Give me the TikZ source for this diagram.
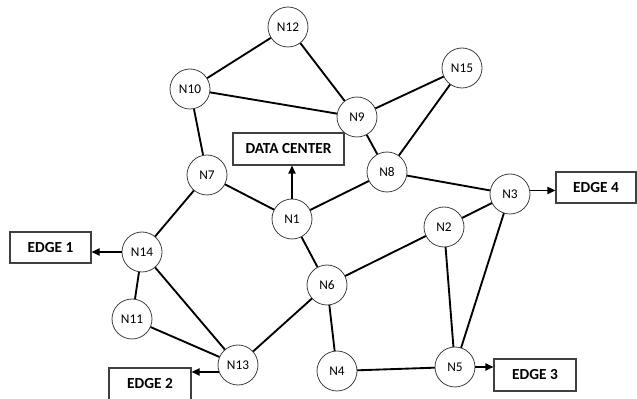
\documentclass[tikz,border=0pt]{standalone}
\usepackage{fontspec}
\setmainfont{Carlito}
\usetikzlibrary{arrows.meta}
\begin{document}
\begin{tikzpicture}[x=0.75pt,y=-0.75pt,
  nd/.style={circle,draw=black!75,line width=0.6pt,fill=white,minimum size=30pt,inner sep=0pt,font=\fontsize{10}{12}\selectfont},
  bx/.style={rectangle,draw=black!75,line width=0.9pt,fill=white,inner sep=0pt,font=\bfseries\fontsize{11.5}{13}\selectfont},
  ln/.style={line width=1.4pt,black},
  ar/.style={line width=0.9pt,black,-{Triangle[length=6pt,width=5.5pt]}}]
\useasboundingbox (0,0) rectangle (637,399);
% edges first (under nodes)
\coordinate (pN12) at (288,27);
\coordinate (pN10) at (190,89);
\coordinate (pN15) at (462,68);
\coordinate (pN9) at (357,117);
\coordinate (pN7) at (207,175);
\coordinate (pN8) at (387,172);
\coordinate (pN1) at (292,219);
\coordinate (pN3) at (510,194);
\coordinate (pN2) at (444,227);
\coordinate (pN14) at (142,252);
\coordinate (pN11) at (132,319);
\coordinate (pN6) at (327,285);
\coordinate (pN13) at (238,365);
\coordinate (pN4) at (337,371);
\coordinate (pN5) at (455,367);
\draw[ln] (pN12) -- (pN10);
\draw[ln] (pN12) -- (pN9);
\draw[ln] (pN10) -- (pN9);
\draw[ln] (pN10) -- (pN7);
\draw[ln] (pN15) -- (pN9);
\draw[ln] (pN15) -- (pN8);
\draw[ln] (pN9) -- (pN8);
\draw[ln] (pN7) -- (pN1);
\draw[ln] (pN7) -- (pN14);
\draw[ln] (pN1) -- (pN8);
\draw[ln] (pN1) -- (pN6);
\draw[ln] (pN8) -- (pN3);
\draw[ln] (pN3) -- (pN2);
\draw[ln] (pN3) -- (pN5);
\draw[ln] (pN2) -- (pN6);
\draw[ln] (pN2) -- (pN5);
\draw[ln] (pN14) -- (pN11);
\draw[ln] (pN14) -- (pN13);
\draw[ln] (pN11) -- (pN13);
\draw[ln] (pN13) -- (pN6);
\draw[ln] (pN6) -- (pN4);
\draw[ln] (pN4) -- (pN5);
% nodes
\node[nd] (N12) at (pN12) {N12};
\node[nd] (N10) at (pN10) {N10};
\node[nd] (N15) at (pN15) {N15};
\node[nd] (N9) at (pN9) {N9};
\node[nd] (N7) at (pN7) {N7};
\node[nd] (N8) at (pN8) {N8};
\node[nd] (N1) at (pN1) {N1};
\node[nd] (N3) at (pN3) {N3};
\node[nd] (N2) at (pN2) {N2};
\node[nd] (N14) at (pN14) {N14};
\node[nd] (N11) at (pN11) {N11};
\node[nd] (N6) at (pN6) {N6};
\node[nd] (N13) at (pN13) {N13};
\node[nd] (N4) at (pN4) {N4};
\node[nd] (N5) at (pN5) {N5};
% boxes
\node[bx,minimum width=83.25pt,minimum height=24pt] (DC) at (288.5,149) {DATA CENTER};
\node[bx,minimum width=60.75pt,minimum height=23.25pt] (E1) at (50.5,247.5) {EDGE 1};
\node[bx,minimum width=61.5pt,minimum height=24pt] (E2) at (150,384) {EDGE 2};
\node[bx,minimum width=61.5pt,minimum height=24pt] (E3) at (535,375) {EDGE 3};
\node[bx,minimum width=60pt,minimum height=23.25pt] (E4) at (596,187.5) {EDGE 4};
% arrows
\draw[ar] (N1.north) -- (N1.north |- DC.south);
\draw[ar] (N14.west) -- (N14.west -| E1.east);
\draw[ar] (N13.200) -- (N13.200 -| E2.east);
\draw[ar] (N5.east) -- (N5.east -| E3.west);
\draw[ar] (N3.10) -- (N3.10 -| E4.west);
\end{tikzpicture}
\end{document}
